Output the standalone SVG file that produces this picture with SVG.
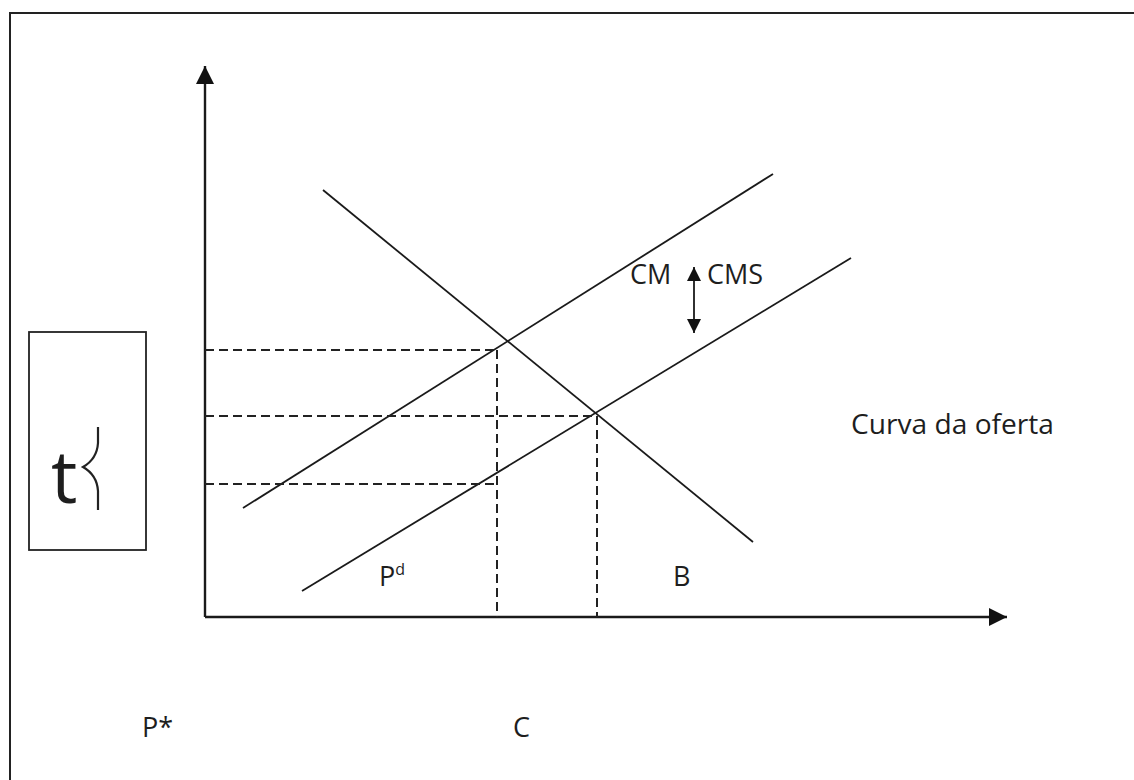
<svg xmlns="http://www.w3.org/2000/svg" width="1134" height="780" viewBox="0 0 1134 780">
<style>
.ln{stroke:#1a1a1a;stroke-width:1.8;fill:none}
.ax{stroke:#1a1a1a;stroke-width:2.4;fill:none}
.ds{stroke:#222;stroke-width:2;fill:none;stroke-dasharray:9 5}
.tx{font-family:"Open Sans","Liberation Sans",sans-serif;fill:#1e1e1e}
</style>
<defs>
<marker id="ah" viewBox="0 0 10 10" refX="10" refY="5" markerWidth="7.5" markerHeight="8" markerUnits="strokeWidth" orient="auto">
<path d="M0,0 L10,5 L0,10 Z" fill="#111"/>
</marker>
<marker id="sh" viewBox="0 0 10 10" refX="10" refY="5" markerWidth="8" markerHeight="9" markerUnits="strokeWidth" orient="auto-start-reverse">
<path d="M0,0 L10,5 L0,10 Z" fill="#111"/>
</marker>
</defs>
<rect x="0" y="0" width="1134" height="780" fill="#fff"/>
<rect id="frame" x="10" y="13" width="1200" height="820" fill="none" stroke="#222" stroke-width="2"/>
<g id="connectors">
<line class="ax" x1="205" y1="617" x2="205" y2="66" marker-end="url(#ah)"/>
<line class="ax" x1="205" y1="617" x2="1007" y2="617" marker-end="url(#ah)"/>
<line id="supply-upper" class="ln" x1="243" y1="508" x2="773" y2="174"/>
<line id="supply-lower" class="ln" x1="302" y1="591" x2="851" y2="258"/>
<line id="demand" class="ln" x1="323" y1="190" x2="753" y2="542"/>
<line class="ds" x1="205" y1="350" x2="497" y2="350"/>
<line class="ds" x1="205" y1="416" x2="597" y2="416"/>
<line class="ds" x1="205" y1="484" x2="497" y2="484"/>
<line class="ds" x1="497" y1="350" x2="497" y2="617"/>
<line class="ds" x1="597" y1="416" x2="597" y2="617"/>
<line class="ln" x1="694" y1="267" x2="694" y2="333" marker-start="url(#sh)" marker-end="url(#sh)" stroke-width="2"/>
</g>
<g id="tbox">
<rect x="29" y="332" width="117" height="218" fill="none" stroke="#222" stroke-width="1.8"/>
<text class="tx" x="51" y="503" font-size="74" fill="#111">t</text>
<path d="M98,427 L98,443 Q97,459 83,467 Q97,475 98,491 L98,510" fill="none" stroke="#222" stroke-width="2.2"/>
</g>
<g id="labels">
<text class="tx" x="630" y="284" font-size="27">CM</text>
<text class="tx" x="707" y="284" font-size="27">CMS</text>
<text class="tx" x="851" y="434" font-size="27" textLength="203" lengthAdjust="spacingAndGlyphs">Curva da oferta</text>
<text class="tx" x="379" y="586" font-size="27">P<tspan font-size="16" dy="-11">d</tspan></text>
<text class="tx" x="673" y="586" font-size="27">B</text>
<text class="tx" x="142" y="737" font-size="27">P*</text>
<text class="tx" x="513" y="737" font-size="27">C</text>
</g>
</svg>
